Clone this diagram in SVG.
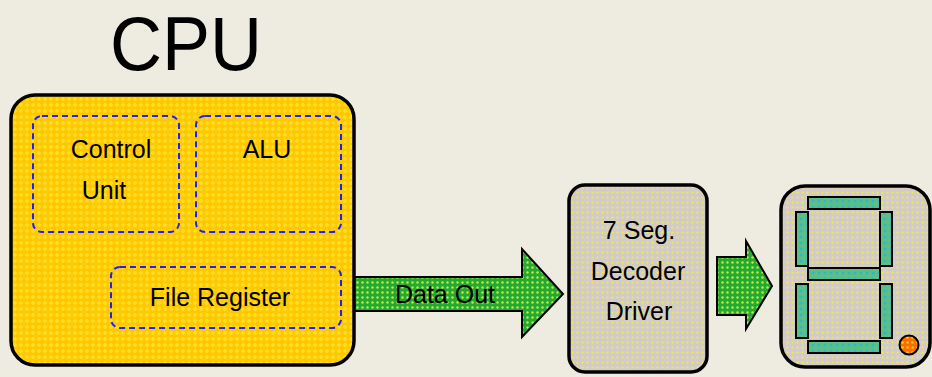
<svg xmlns="http://www.w3.org/2000/svg" width="932" height="377" viewBox="0 0 932 377">
<defs>
<pattern id="pCpu" width="6" height="6" patternUnits="userSpaceOnUse">
<rect width="6" height="6" fill="#FFC800"/>
<path d="M3 0.5 L5.5 3 L3 5.5 L0.5 3 Z" fill="#FFDD22"/>
</pattern>
<pattern id="pGray" width="5" height="5" patternUnits="userSpaceOnUse">
<rect width="5" height="5" fill="#D3CBCB"/>
<circle cx="2.5" cy="2.5" r="1.1" fill="#F2F030"/>
</pattern>
<pattern id="pGreen" width="5" height="5" patternUnits="userSpaceOnUse">
<rect width="5" height="5" fill="#22AA33"/>
<circle cx="2.5" cy="2.5" r="1.2" fill="#C8E840"/>
</pattern>
<pattern id="pSeg" width="6" height="6" patternUnits="userSpaceOnUse">
<rect width="6" height="6" fill="#5CBF88"/>
<circle cx="3" cy="3" r="1.5" fill="#2FB8C8"/>
</pattern>
<pattern id="pDot" width="5" height="5" patternUnits="userSpaceOnUse">
<rect width="5" height="5" fill="#FF6A00"/>
<circle cx="2.5" cy="2.5" r="1.3" fill="#FFCC00"/>
</pattern>
</defs>
<style>
.box{stroke:#000;stroke-width:3.5}
.dash{fill:none;stroke:#1F1FFF;stroke-width:2;stroke-dasharray:6 4}
.t{font-family:"Liberation Sans",Arial,sans-serif;font-size:25px;fill:#000;text-anchor:middle}
.seg{fill:url(#pSeg);stroke:#000;stroke-width:2}
.arr{fill:url(#pGreen);stroke:#000;stroke-width:2}
</style>
<rect width="932" height="377" fill="#EEEBE1"/>
<text x="186" y="70" font-family="Liberation Sans,Arial,sans-serif" font-size="76" text-anchor="middle" textLength="152" lengthAdjust="spacingAndGlyphs">CPU</text>
<g id="connectors">
<path class="arr" d="M354 277 H522 V249 L563 294 L522 337 V311 H354 Z"/>
<text class="t" x="445" y="303">Data Out</text>
<path class="arr" d="M717 257 H746 V241 L772 286 L746 329 V315 H717 Z"/>
</g>
<g id="cpu">
<rect class="box" x="11" y="95" width="343" height="270" rx="24" fill="url(#pCpu)"/>
</g>
<g id="control-unit">
<rect class="dash" x="33" y="116" width="146" height="116" rx="9"/>
<text class="t" x="111" y="158">Control</text>
<text class="t" x="104" y="199">Unit</text>
</g>
<g id="alu">
<rect class="dash" x="196" y="116" width="145" height="116" rx="9"/>
<text class="t" x="267" y="158">ALU</text>
</g>
<g id="file-register">
<rect class="dash" x="111" y="267" width="230" height="61" rx="9"/>
<text class="t" x="220" y="306">File Register</text>
</g>
<g id="decoder">
<rect class="box" x="569" y="185" width="138" height="187" rx="16" fill="url(#pGray)"/>
<text class="t" x="639" y="239">7 Seg.</text>
<text class="t" x="638" y="280">Decoder</text>
<text class="t" x="639" y="320">Driver</text>
</g>
<g id="display">
<rect class="box" x="781" y="186" width="149" height="181" rx="24" fill="url(#pGray)"/>
<rect class="seg" x="808" y="197" width="72" height="12"/>
<rect class="seg" x="796" y="212" width="12" height="54"/>
<rect class="seg" x="880" y="212" width="12" height="54"/>
<rect class="seg" x="808" y="268" width="72" height="12"/>
<rect class="seg" x="796" y="284" width="12" height="54"/>
<rect class="seg" x="880" y="284" width="12" height="54"/>
<rect class="seg" x="808" y="341" width="72" height="12"/>
<circle cx="909" cy="345" r="9.5" fill="url(#pDot)" stroke="#000" stroke-width="2"/>
</g>
</svg>
